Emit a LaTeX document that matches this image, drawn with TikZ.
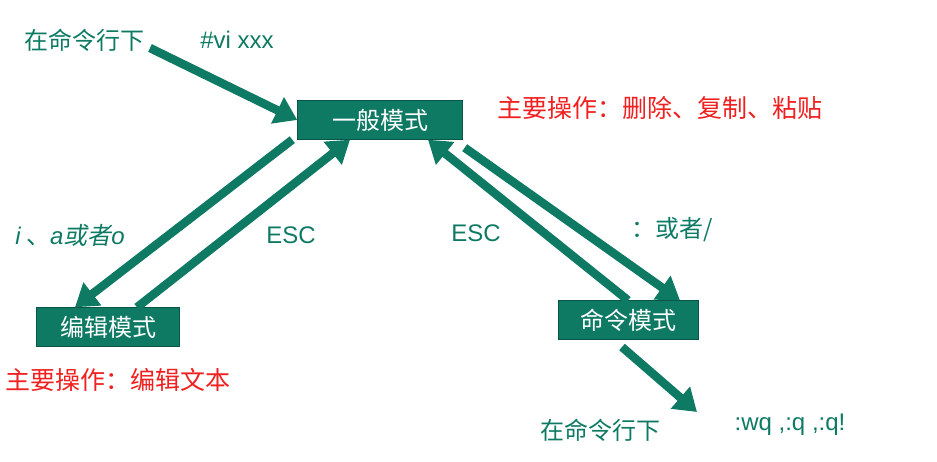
\documentclass[tikz,border=0pt]{standalone}
\usepackage{fontspec}
\setmainfont{Noto Sans CJK SC}
\newfontfamily\lsans{Liberation Sans}
\newfontfamily\cjkit[FakeSlant=0.2]{Noto Sans CJK SC}
\usetikzlibrary{arrows.meta}
\definecolor{tg}{HTML}{0E7A64}
\definecolor{rd}{HTML}{F02020}
\begin{document}
\begin{tikzpicture}[x=1pt,y=-1pt,
  modebox/.style={fill=tg,draw=tg!70!black,text=white,font=\fontsize{24}{28}\selectfont,minimum height=39pt,inner xsep=4pt},
  gl/.style={text=tg,font=\fontsize{24}{28}\selectfont},
  rl/.style={text=rd,font=\fontsize{25}{29}\selectfont},
  big/.style={draw=tg,line width=8.5pt,-{Triangle[length=22pt,width=28pt]}}]
\useasboundingbox (0,0) rectangle (937,461);
\node[modebox,minimum width=165pt] (g) at (380,120) {一般模式};
\node[modebox,minimum width=143pt] (e) at (108,327) {编辑模式};
\node[modebox,minimum width=140pt] (c) at (628,320) {命令模式};
\node[gl] (t1) at (84,40) {在命令行下};
\node[gl] (t2) at (237,40) {\lsans\#vi xxx};
\node[rl] (m1) at (660,108) {主要操作：删除、复制、粘贴};
\node[gl] (i) at (70,235) {{\lsans\itshape i} 、{\lsans\itshape a}{\cjkit 或者}{\lsans\itshape o}};
\node[gl] (esc1) at (291,235) {\lsans ESC};
\node[gl] (esc2) at (476,233) {\lsans ESC};
\node[gl] (colon) at (672,230) {：或者/};
\node[rl] (m2) at (118,380) {主要操作：编辑文本};
\node[gl] (t3) at (600,430) {在命令行下};
\node[gl] (wq) at (790,425) {\lsans :wq ,:q ,:q!};
\coordinate (a1) at (150,48);
\coordinate (a6) at (622,347);
\coordinate (a6e) at (697,412);
\draw[big] (a1) -- (g.west);
\draw[big] ([xshift=-5pt]g.south west) -- ([xshift=-33pt]e.north);
\draw[big] ([xshift=29pt]e.north) -- ([xshift=-30pt]g.south);
\draw[big] ([xshift=0pt]c.north) -- ([xshift=48pt]g.south);
\draw[big] ([xshift=2pt,yshift=-8pt]g.south east) -- ([xshift=52pt]c.north);
\draw[big] (a6) -- (a6e);
\end{tikzpicture}
\end{document}
